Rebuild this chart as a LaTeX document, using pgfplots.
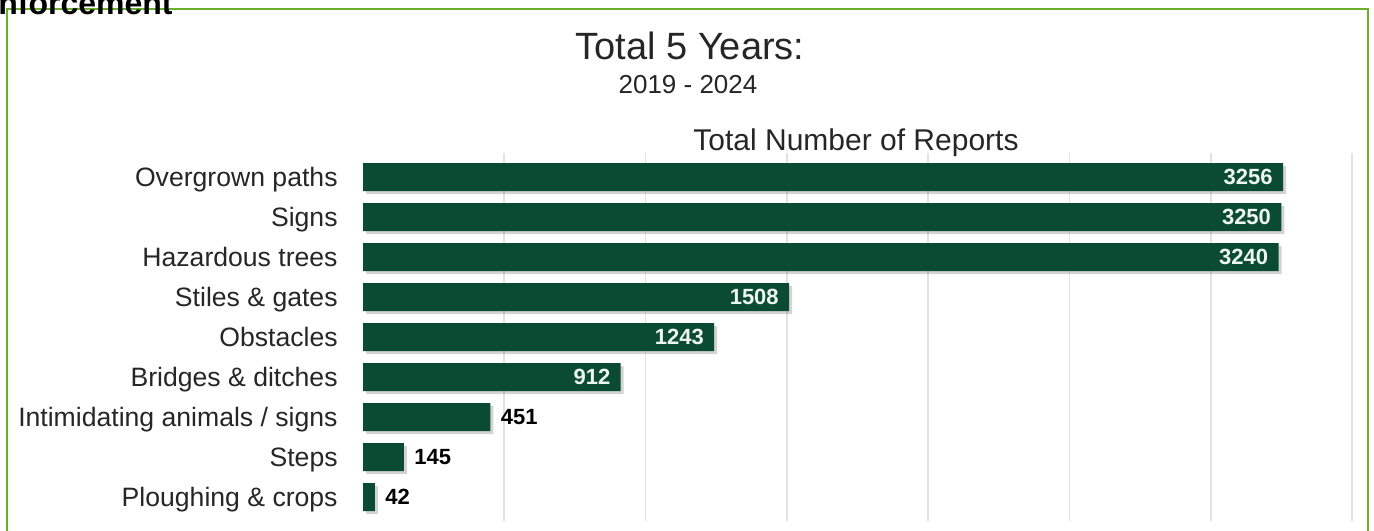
\documentclass[border=0pt]{standalone}
\usepackage{pgfplots}
\pgfplotsset{compat=1.18}
\usepackage{pgfplotstable}
\usepackage{fontspec}
\setmainfont{Liberation Sans}
\usetikzlibrary{shadows}
\definecolor{bargreen}{HTML}{0B4A33}
\definecolor{bordergreen}{HTML}{6AB02E}
\definecolor{gridgray}{HTML}{E2E2E2}
\definecolor{insidetext}{HTML}{EEF6F1}
\pgfplotstableread{
y value
0 3256
1 3250
2 3240
3 1508
4 1243
5 912
6 451
7 145
8 42
}\datatable
\begin{document}
\begin{tikzpicture}
\useasboundingbox (0,0) rectangle (687pt,265pt);
\clip (0,0) rectangle (687pt,265pt);
\begin{axis}[
  at={(181.5pt,4.5pt)}, anchor=south west,
  scale only axis, width=494.5pt, height=184pt,
  xmin=0, xmax=3500, ymin=-0.6, ymax=8.6, y dir=reverse,
  axis line style={draw=none},
  xmajorgrids, xtick={500,1000,...,3500},
  grid style={gridgray, line width=0.8pt},
  ytick={0,...,8},
  yticklabels={Overgrown paths,Signs,Hazardous trees,Stiles \& gates,Obstacles,Bridges \& ditches,Intimidating animals / signs,Steps,Ploughing \& crops},
  major tick length=0pt,
  xticklabels={},
  yticklabel style={font=\fontsize{13.3}{14}\selectfont, anchor=east, inner sep=0pt, text height=9.5pt, text depth=0pt, xshift=-12.5pt, text=black!85},
  /pgf/number format/assume math mode=true,
  /pgf/number format/1000 sep={},
  clip=false,
]
\addplot[xbar, fill=bargreen, draw=none, bar width=14pt,
  drop shadow={shadow xshift=1.5pt, shadow yshift=-1.5pt, opacity=0.35},
] table[x=value, y=y] {\datatable};
\addplot[only marks, mark=*, mark size=0pt, mark options={draw=none, fill=none},
  restrict x to domain=800:4000, point meta=x,
  nodes near coords,
  every node near coord/.append style={font=\fontsize{11}{12}\selectfont\bfseries, anchor=east, inner xsep=5pt, inner ysep=0pt, text height=7.9pt, text depth=0pt, text=insidetext},
] table[x=value, y=y] {\datatable};
\addplot[only marks, mark=*, mark size=0pt, mark options={draw=none, fill=none},
  restrict x to domain=0:800, point meta=x,
  nodes near coords,
  every node near coord/.append style={font=\fontsize{11}{12}\selectfont\bfseries, anchor=west, inner xsep=5pt, inner ysep=0pt, text height=7.9pt, text depth=0pt, text=black},
] table[x=value, y=y] {\datatable};
\end{axis}
\draw[bordergreen, line width=1.2pt] (3.5pt,-2pt) -- (3.5pt,260.5pt) -- (684pt,260.5pt) -- (684pt,-2pt);
\node[anchor=base west, inner sep=0pt, font=\fontsize{16}{16}\selectfont\bfseries] at (-1pt,257.5pt) {nforcement};
\node[font=\fontsize{19}{20}\selectfont, text=black!85] at (345pt,242pt) {Total 5 Years:};
\node[font=\fontsize{13}{14}\selectfont, text=black!85] at (344pt,222.5pt) {2019 - 2024};
\node[font=\fontsize{15}{16}\selectfont, text=black!85] at (428pt,193.5pt) {Total Number of Reports};
\end{tikzpicture}
\end{document}
